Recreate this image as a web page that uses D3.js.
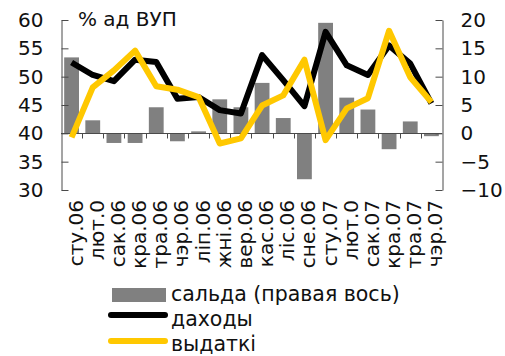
<!DOCTYPE html>
<html><head><meta charset="utf-8">
<script src="https://cdn.jsdelivr.net/npm/d3@7"></script>
<style>
body{margin:0;background:#fff;}
svg{display:block;font-family:"DejaVu Sans",Verdana,sans-serif;}
</style></head>
<body><svg id="c" width="505" height="356"></svg>
<script>
const categories = ["сту.06","лют.0","сак.06","кра.06","тра.06","чэр.06","ліп.06","жні.06","вер.06","кас.06","ліс.06","сне.06","сту.07","лют.0","сак.07","кра.07","тра.07","чэр.07"];
const balance = [13.4, 2.3, -1.7, -1.7, 4.6, -1.4, 0.35, 6.0, 4.6, 8.9, 2.7, -8.1, 19.5, 6.3, 4.2, -2.8, 2.1, -0.5];
const revenue = [52.5, 50.3, 49.2, 53.0, 52.6, 46.1, 46.4, 44.1, 43.5, 53.8, 49.4, 44.8, 57.9, 52.0, 50.3, 55.5, 52.3, 45.3];
const spending = [39.3, 48.1, 51.1, 54.6, 48.3, 47.7, 46.4, 38.2, 39.1, 44.9, 46.7, 53.0, 38.8, 44.4, 46.2, 58.1, 49.9, 45.5];
const leftTicks = [30, 35, 40, 45, 50, 55, 60];
const rightTicks = [-10, -5, 0, 5, 10, 15, 20];
const legendLabels = ["сальда (правая вось)", "даходы", "выдаткі"];
const unitLabel = "% ад ВУП";

const svg = d3.select("#c");
const L = 61, R = 442, T = 20, B = 190;
const idx = d3.range(categories.length);
const x = d3.scaleBand().domain(idx).range([L, R]).paddingInner(0.3).paddingOuter(0.15);
const yL = d3.scaleLinear().domain([30, 60]).range([B, T]);
const yR = d3.scaleLinear().domain([-10, 20]).range([B, T]);
const axisColor = "#4a4a4a";
const yellow = "#FFC800";
const cx = i => x(i) + x.bandwidth() / 2;

// bars
svg.append("g").selectAll("rect").data(balance).join("rect")
  .attr("x", (d, i) => x(i))
  .attr("width", x.bandwidth())
  .attr("y", d => yR(Math.max(0, d)))
  .attr("height", d => Math.abs(yR(d) - yR(0)))
  .attr("fill", "#808080");

// x axis line at zero
const x0 = Math.round(yR(0)) + 0.5;
svg.append("line").attr("x1", L).attr("x2", R).attr("y1", x0).attr("y2", x0).attr("stroke", axisColor).attr("stroke-width", 1);
const step = x.step();
svg.append("g").selectAll("line").data(idx.slice(1)).join("line")
  .attr("x1", i => Math.round(x(i) - x.paddingInner() * step / 2) + 0.5)
  .attr("x2", i => Math.round(x(i) - x.paddingInner() * step / 2) + 0.5)
  .attr("y1", x0).attr("y2", x0 + 5)
  .attr("stroke", axisColor);

// axes
const gL = svg.append("g").attr("transform", `translate(${L + 0.5},0)`)
  .call(d3.axisLeft(yL).tickValues(leftTicks).tickSizeInner(-7).tickSizeOuter(0).tickPadding(18));
const gR = svg.append("g").attr("transform", `translate(${R + 0.5},0)`)
  .call(d3.axisRight(yR).tickValues(rightTicks).tickSizeInner(-7).tickSizeOuter(0).tickPadding(18));
[gL, gR].forEach(g => {
  g.selectAll("path,line").attr("stroke", axisColor);
  g.selectAll("text").attr("font-size", 20).attr("fill", "#111").attr("font-family", "DejaVu Sans");
});

// lines
const lineL = d3.line().x((d, i) => cx(i)).y(d => yL(d));
svg.append("path").datum(revenue).attr("d", lineL).attr("fill", "none")
  .attr("stroke", "#000").attr("stroke-width", 6).attr("stroke-linejoin", "round");
svg.append("path").datum(spending).attr("d", lineL).attr("fill", "none")
  .attr("stroke", yellow).attr("stroke-width", 6).attr("stroke-linejoin", "round");

// x labels
svg.append("g").selectAll("text").data(categories).join("text")
  .attr("transform", (d, i) => `translate(${cx(i) + 4},${200}) rotate(-90)`)
  .attr("text-anchor", "end").attr("dy", "0.35em")
  .attr("font-size", 20).attr("fill", "#111")
  .text(d => d);

// unit label
svg.append("text").attr("x", 78).attr("y", 26).attr("font-size", 20).attr("fill", "#111").text(unitLabel);

// legend
const lg = svg.append("g");
lg.append("rect").attr("x", 112).attr("y", 288).attr("width", 54).attr("height", 14).attr("fill", "#808080");
lg.append("line").attr("x1", 111).attr("x2", 165).attr("y1", 315).attr("y2", 315)
  .attr("stroke", "#000").attr("stroke-width", 6).attr("stroke-linecap", "round");
lg.append("line").attr("x1", 111).attr("x2", 165).attr("y1", 341).attr("y2", 341)
  .attr("stroke", yellow).attr("stroke-width", 6).attr("stroke-linecap", "round");
lg.selectAll("text").data(legendLabels).join("text")
  .attr("x", 171).attr("y", (d, i) => 301 + i * 25)
  .attr("font-size", 20.5).attr("fill", "#111").text(d => d);
</script></body></html>
